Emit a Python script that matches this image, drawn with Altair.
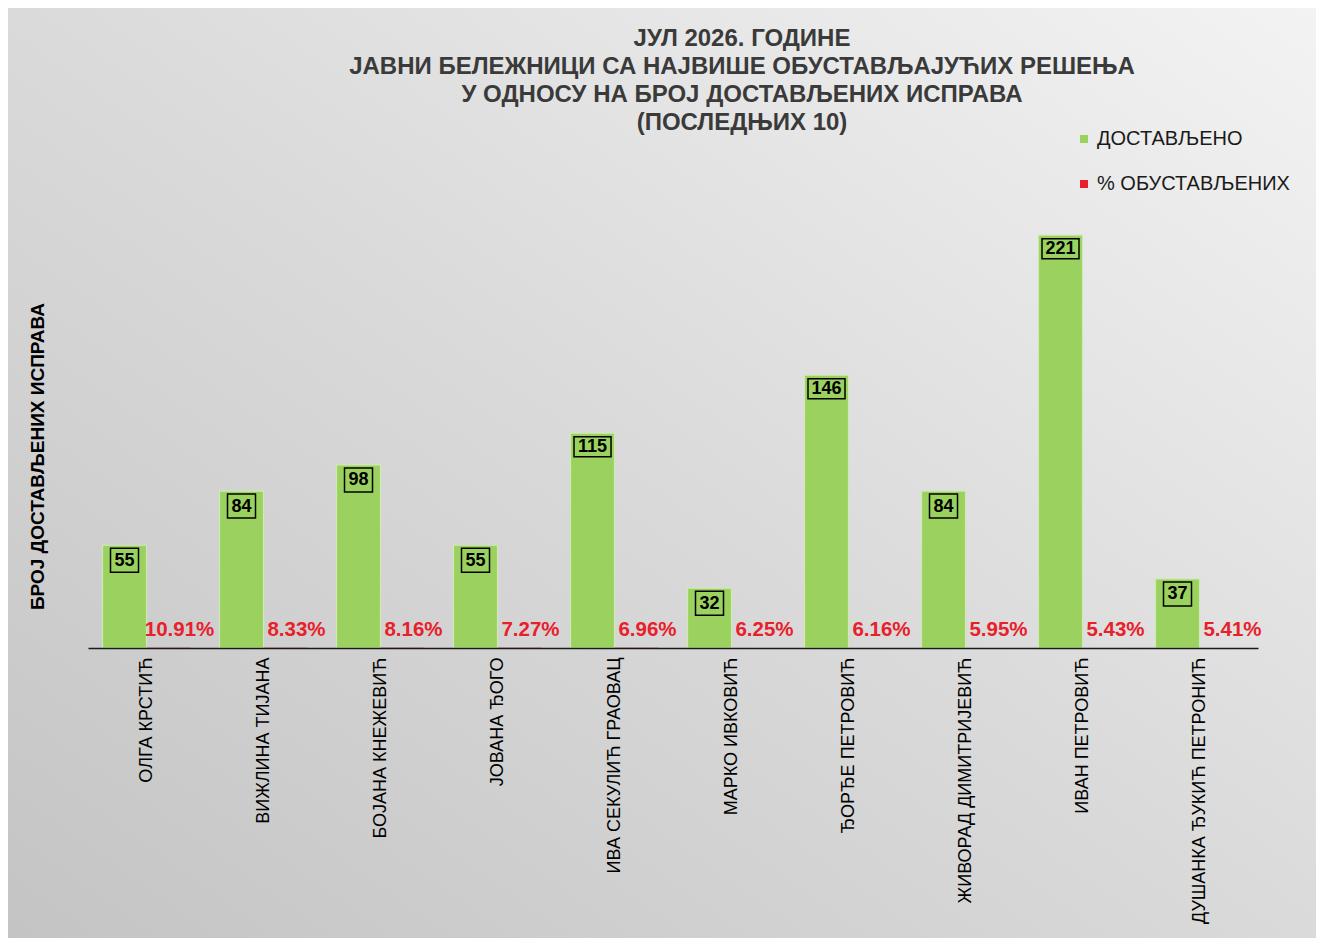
import pandas as pd
import altair as alt

# data
names = [
    "ОЛГА КРСТИЋ",
    "ВИЖЛИНА ТИЈАНА",
    "БОЈАНА КНЕЖЕВИЋ",
    "ЈОВАНА ЂОГО",
    "ИВА СЕКУЛИЋ ГРАОВАЦ",
    "МАРКО ИВКОВИЋ",
    "ЂОРЂЕ ПЕТРОВИЋ",
    "ЖИВОРАД ДИМИТРИЈЕВИЋ",
    "ИВАН ПЕТРОВИЋ",
    "ДУШАНКА ЂУКИЋ ПЕТРОНИЋ",
]
delivered = [55, 84, 98, 55, 115, 32, 146, 84, 221, 37]
pct_suspended = [10.91, 8.33, 8.16, 7.27, 6.96, 6.25, 6.16, 5.95, 5.43, 5.41]
series = ["ДОСТАВЉЕНО", "% ОБУСТАВЉЕНИХ"]
title_lines = [
    "ЈУЛ 2026. ГОДИНЕ",
    "ЈАВНИ БЕЛЕЖНИЦИ СА НАЈВИШЕ ОБУСТАВЉАЈУЋИХ РЕШЕЊА",
    "У ОДНОСУ НА БРОЈ ДОСТАВЉЕНИХ ИСПРАВА",
    "(ПОСЛЕДЊИХ 10)",
]
y_title = "БРОЈ ДОСТАВЉЕНИХ  ИСПРАВА"

# layout / style
FONT = "Liberation Sans"
GREEN = "#9bd25f"
RED = "#e8202a"
W, H = 1170, 467
PAD = {"left": 80, "top": 173, "right": 58, "bottom": 290}

rows = []
for n, d, p in zip(names, delivered, pct_suspended):
    rows.append({"name": n, "series": series[0], "kind": "count", "value": d,
                 "label": str(d), "digits": len(str(d))})
    rows.append({"name": n, "series": series[1], "kind": "pct", "value": p / 100,
                 "label": f"{p:.2f}%", "digits": 0})
df = pd.DataFrame(rows)

x_axis = alt.Axis(
    title=None,
    labelAngle=270,
    labelFont=FONT,
    labelFontSize=18,
    labelColor="black",
    labelPadding=9,
    labelLimit=400,
    ticks=False,
    grid=False,
    domainColor="#1a1a1a",
    domainWidth=1.5,
    zindex=1,
)
y_axis = alt.Axis(
    title=y_title,
    labels=False,
    ticks=False,
    domain=False,
    grid=False,
    titleFont=FONT,
    titleFontSize=19,
    titleFontWeight="bold",
    titleColor="black",
    titleAngle=270,
    titleX=-51,
    titleY=275,
    titleAlign="center",
    titleBaseline="middle",
    zindex=1,
)

x_enc = alt.X("name:N", sort=names,
              scale=alt.Scale(paddingInner=0.248, paddingOuter=0.124), axis=x_axis)
xoff_enc = alt.XOffset("series:N", sort=series, scale=alt.Scale(domain=series))
y_enc = alt.Y("value:Q", scale=alt.Scale(domain=[0, 250], nice=False), axis=y_axis)

base = alt.Chart(df)

# gradient backdrop behind everything
bg = (
    alt.Chart(pd.DataFrame({"bg": [0]}))
    .mark_rect(
        fill=alt.LinearGradient(
            gradient="linear",
            stops=[
                alt.GradientStop(color="#c4c4c4", offset=0),
                alt.GradientStop(color="#dadada", offset=0.5),
                alt.GradientStop(color="#f3f3f3", offset=1),
            ],
            x1=0, y1=1, x2=1, y2=0,
        )
    )
    .encode(
        x=alt.value(-PAD["left"]),
        x2=alt.value(W + PAD["right"]),
        y=alt.value(-PAD["top"]),
        y2=alt.value(H + PAD["bottom"]),
    )
)

bars = base.mark_bar().encode(
    x=x_enc,
    xOffset=xoff_enc,
    y=y_enc,
    color=alt.Color(
        "series:N",
        sort=series,
        scale=alt.Scale(domain=series, range=[GREEN, RED]),
        legend=alt.Legend(
            title=None,
            orient="none",
            legendX=986,
            legendY=-52,
            direction="vertical",
            symbolType="square",
            symbolSize=64,
            symbolStrokeWidth=0,
            labelFont=FONT,
            labelFontSize=20,
            labelColor="#1a1a1a",
            labelOffset=3,
            labelLimit=400,
            rowPadding=25,
            padding=0,
        ),
    ),
    stroke=alt.condition("datum.kind == 'count'", alt.value("#cfe9b2"), alt.value("transparent")),
    strokeWidth=alt.value(1.2),
)


def value_box(digits_test, shape, size, yoff):
    sub = base.transform_filter(f"datum.kind == 'count' && {digits_test}")
    box = sub.mark_point(
        shape=shape, size=size, filled=True, fill=GREEN, stroke="black",
        strokeWidth=1.5, opacity=1, yOffset=yoff,
    ).encode(x=x_enc, xOffset=xoff_enc, y=y_enc)
    txt = sub.mark_text(
        font=FONT, fontSize=18, fontWeight="bold", color="black",
        baseline="middle", dy=yoff + 0.5,
    ).encode(x=x_enc, xOffset=xoff_enc, y=y_enc, text="label:N")
    return box + txt


box2 = value_box("datum.digits < 3", "M-1,-0.857L1,-0.857L1,0.857L-1,0.857Z", 784, 15)
box3 = value_box("datum.digits >= 3", "M-1,-0.54L1,-0.54L1,0.54L-1,0.54Z", 1369, 13.5)

pct_labels = base.transform_filter("datum.kind == 'pct'").mark_text(
    font=FONT, fontSize=20.5, fontWeight="bold", color=RED,
    baseline="middle", dx=11, dy=-18,
).encode(x=x_enc, xOffset=xoff_enc, y=y_enc, text="label:N")

chart = (
    alt.layer(bg, bars, box2, box3, pct_labels)
    .properties(
        width=W,
        height=H,
        padding=PAD,
        autosize=alt.AutoSizeParams(type="none"),
        title=alt.Title(
            text=title_lines,
            font=FONT,
            fontSize=24,
            fontWeight="bold",
            color="#3a3a3a",
            lineHeight=28,
            anchor="middle",
            frame="group",
            offset=0,
            baseline="top",
            dx=69,
            dy=127,
        ),
    )
    .configure_view(strokeWidth=0)
)

chart.save("out.html", embed_options={"renderer": "svg", "actions": False})
